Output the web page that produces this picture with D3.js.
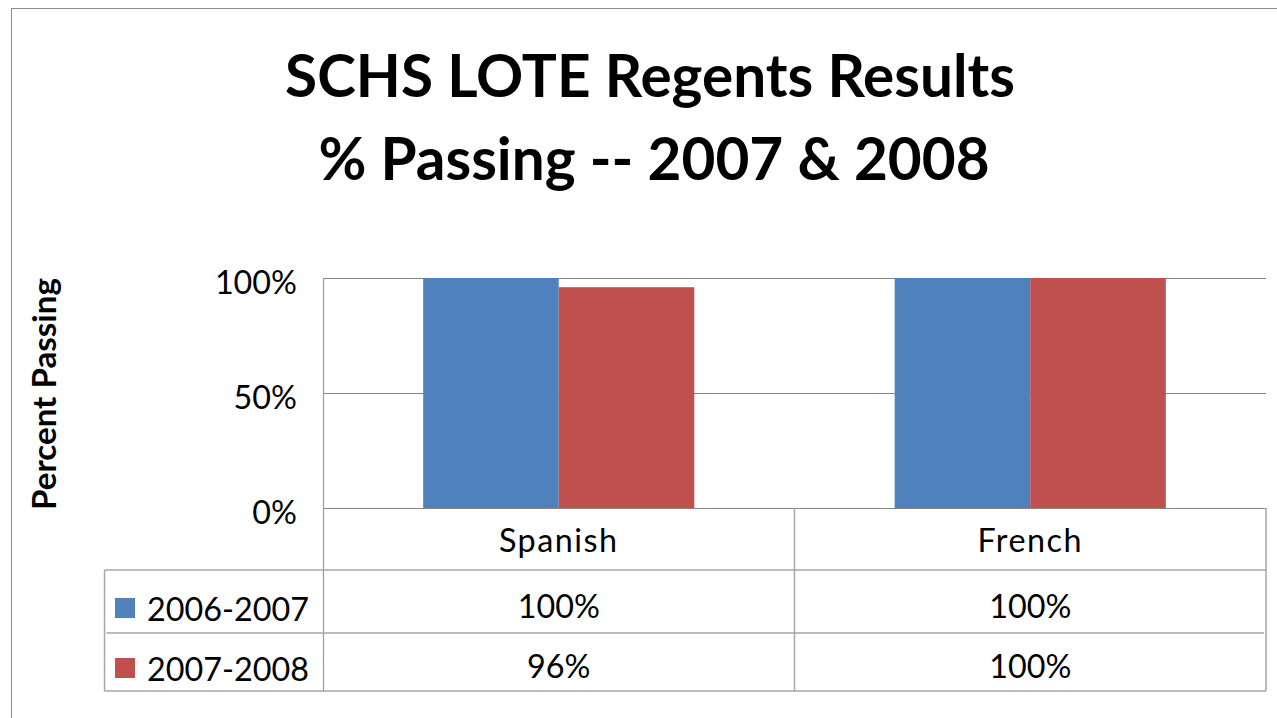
<!DOCTYPE html>
<html>
<head>
<meta charset="utf-8">
<script src="https://cdn.jsdelivr.net/npm/d3@7"></script>
<style>
  html, body { margin: 0; padding: 0; background: #fff; }
  svg { display: block; }
  text { font-family: Lato, "Open Sans", sans-serif; fill: #000; }
</style>
</head>
<body>
<svg id="chart" width="1277" height="718"></svg>
<script>
// ---- data ----
const categories = ["Spanish", "French"];
const seriesNames = ["2006-2007", "2007-2008"];
const series2006_2007 = [1.00, 1.00];
const series2007_2008 = [0.96, 1.00];
const tableLabels2006_2007 = ["100%", "100%"];
const tableLabels2007_2008 = ["96%", "100%"];
const yTicks = [0, 0.5, 1];
const titleLines = ["SCHS LOTE Regents Results", "% Passing -- 2007 & 2008"];
const yAxisTitle = "Percent Passing";
const colors = ["#4F81BD", "#C0504D"];

const allSeries = [series2006_2007, series2007_2008];
const tableRows = [tableLabels2006_2007, tableLabels2007_2008];

const svg = d3.select("#chart");

// outer chart border
svg.append("rect").attr("x", 11.5).attr("y", 8.5).attr("width", 1300).attr("height", 800)
  .attr("fill", "none").attr("stroke", "#8c8c8c").attr("stroke-width", 1);

function fit(sel, w) {
  const fs = parseFloat(sel.attr("font-size"));
  const l = sel.node().getComputedTextLength();
  sel.attr("font-size", fs * w / l);
}

// title
const t1 = svg.append("text").attr("x", 650).attr("y", 97).attr("text-anchor", "middle")
  .attr("font-weight", "bold").attr("font-size", 60).text(titleLines[0]);
fit(t1, 730);
const t2 = svg.append("text").attr("x", 654).attr("y", 180).attr("text-anchor", "middle")
  .attr("font-weight", "bold").attr("font-size", t1.attr("font-size")).text(titleLines[1]);

// layout
const plotL = 323, plotR = 1266, plotT = 278, plotB = 508;
const rowB = [570, 633, 691];
const tableL = 104.5;

const x0 = d3.scaleBand().domain(categories).range([plotL, plotR])
  .paddingInner(0.425).paddingOuter(0.2125);
const x1 = d3.scaleBand().domain(seriesNames).range([0, x0.bandwidth()]);
const cell = d3.scaleBand().domain(categories).range([plotL, plotR]);
const y = d3.scaleLinear().domain([0, 1]).range([plotB, plotT]);

// gridlines + tick labels
const yAxis = d3.axisLeft(y).tickValues(yTicks).tickFormat(d3.format(".0%"))
  .tickSizeInner(-(plotR - plotL)).tickSizeOuter(0).tickPadding(26);
const gy = svg.append("g").attr("transform", `translate(${plotL},0)`).call(yAxis);
gy.select(".domain").remove();
gy.selectAll(".tick line").attr("stroke", "#868686").attr("stroke-width", 1.2);
gy.selectAll(".tick text").attr("font-size", 30).attr("fill", "#000").attr("dy", "0.48em")
  .style("font-family", "Lato, 'Open Sans', sans-serif");

// bars
const groups = svg.append("g").selectAll("g").data(categories).join("g")
  .attr("transform", d => `translate(${x0(d)},0)`);
groups.selectAll("rect").data((c, ci) => seriesNames.map((s, si) => ({ s, si, v: allSeries[si][ci] })))
  .join("rect")
  .attr("x", d => x1(d.s)).attr("width", x1.bandwidth())
  .attr("y", d => y(d.v)).attr("height", d => y(0) - y(d.v))
  .attr("fill", d => colors[d.si]);

// axis line at 0 and vertical axis line
svg.append("line").attr("x1", plotL).attr("x2", plotR).attr("y1", plotB + 0.5).attr("y2", plotB + 0.5)
  .attr("stroke", "#868686").attr("stroke-width", 1.2);
svg.append("line").attr("x1", plotL + 0.5).attr("x2", plotL + 0.5).attr("y1", plotT).attr("y2", rowB[2])
  .attr("stroke", "#9a9a9a").attr("stroke-width", 1.2);

// data table lines
const tl = svg.append("g").attr("stroke", "#a6a6a6").attr("stroke-width", 1.5);
tl.append("line").attr("x1", tableL).attr("x2", plotR).attr("y1", rowB[0]).attr("y2", rowB[0]);
tl.append("line").attr("x1", tableL + 2).attr("x2", plotR - 2).attr("y1", rowB[1]).attr("y2", rowB[1]);
tl.append("line").attr("x1", tableL).attr("x2", plotR).attr("y1", rowB[2]).attr("y2", rowB[2]);
tl.append("line").attr("x1", tableL).attr("x2", tableL).attr("y1", rowB[0]).attr("y2", rowB[2]);
tl.selectAll(".v").data(categories).join("line").attr("class", "v")
  .attr("x1", d => cell(d) + cell.bandwidth()).attr("x2", d => cell(d) + cell.bandwidth())
  .attr("y1", plotB).attr("y2", rowB[2]);

// legend labels in table (fit size)
const legY = [610, 670];
const legText = svg.append("g").selectAll("text").data(seriesNames).join("text")
  .attr("x", 147).attr("y", (d, i) => legY[i]).attr("dy", "0.35em")
  .attr("font-size", 30).text(d => d);
fit(d3.select(legText.nodes()[0]), 162);
const fs = parseFloat(d3.select(legText.nodes()[0]).attr("font-size"));
legText.attr("font-size", fs);
gy.selectAll(".tick text").attr("font-size", fs);

svg.append("g").selectAll("rect").data(seriesNames).join("rect")
  .attr("x", 115).attr("y", (d, i) => legY[i] - 12).attr("width", 20).attr("height", 20)
  .attr("fill", (d, i) => colors[i]);

// category labels
svg.append("g").selectAll("text").data(categories).join("text")
  .attr("x", d => cell(d) + cell.bandwidth() / 2).attr("y", 541).attr("dy", "0.35em")
  .attr("text-anchor", "middle").attr("font-size", fs).attr("letter-spacing", 1.5).text(d => d);

// values
const valY = [607, 667];
tableRows.forEach((row, ri) => {
  svg.append("g").selectAll("text").data(categories).join("text")
    .attr("x", d => cell(d) + cell.bandwidth() / 2).attr("y", valY[ri]).attr("dy", "0.35em")
    .attr("text-anchor", "middle").attr("font-size", fs).text((d, ci) => row[ci]);
});

// y axis title
const yt = svg.append("text").attr("transform", `translate(44,394) rotate(-90)`)
  .attr("text-anchor", "middle").attr("dy", "0.35em").attr("font-weight", "bold")
  .attr("font-size", 28).text(yAxisTitle);
fit(yt, 232);
</script>
</body>
</html>
